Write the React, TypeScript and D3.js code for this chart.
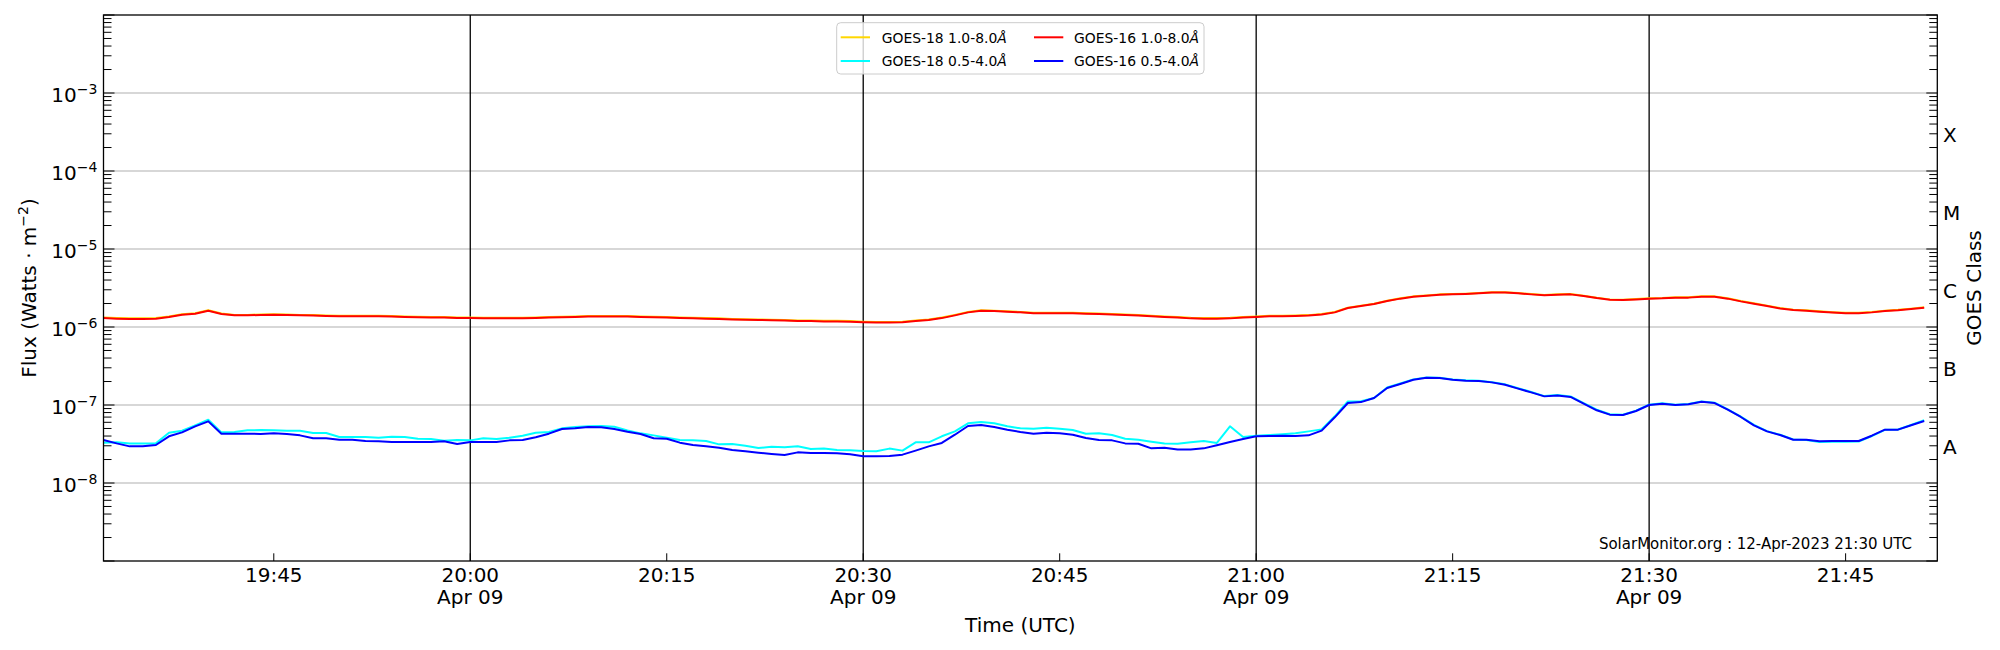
import React, { useEffect } from 'react';
import * as d3 from 'd3';

// one sample per minute, starting 2023-04-09 19:32 UTC
const startTime = new Date(Date.UTC(2023, 3, 9, 19, 32));
const endTime = new Date(Date.UTC(2023, 3, 9, 21, 52));

// GOES-18 1.0-8.0 A (units of 1e-6 W/m^2)
const goes18LongE6 = [
  1.32, 1.30, 1.29, 1.29, 1.30, 1.36, 1.46, 1.50, 1.64, 1.49, 1.43, 1.43, 1.45, 1.46, 1.45, 1.43, 1.42, 1.40,
  1.39, 1.39, 1.39, 1.39, 1.38, 1.36, 1.35, 1.34, 1.34, 1.32, 1.32, 1.31, 1.31, 1.31, 1.31, 1.32, 1.34, 1.35,
  1.36, 1.38, 1.38, 1.38, 1.38, 1.36, 1.35, 1.34, 1.32, 1.31, 1.30, 1.29, 1.27, 1.26, 1.25, 1.24, 1.23, 1.21,
  1.21, 1.20, 1.20, 1.19, 1.17, 1.16, 1.16, 1.17, 1.21, 1.25, 1.32, 1.43, 1.56, 1.64, 1.62, 1.59, 1.56,
  1.52, 1.52, 1.52, 1.52, 1.50, 1.49, 1.47, 1.45, 1.42, 1.39, 1.36, 1.34, 1.31, 1.30, 1.30, 1.31, 1.34, 1.36,
  1.39, 1.39, 1.40, 1.42, 1.47, 1.56, 1.77, 1.88, 1.99, 2.17, 2.33, 2.47, 2.54, 2.62, 2.64, 2.67, 2.72,
  2.78, 2.78, 2.72, 2.64, 2.57, 2.62, 2.64, 2.52, 2.37, 2.26, 2.24, 2.28, 2.33, 2.35, 2.40, 2.40, 2.47, 2.47,
  2.33, 2.15, 2.01, 1.88, 1.75, 1.67, 1.64, 1.59, 1.55, 1.52, 1.52, 1.56, 1.62, 1.66, 1.72, 1.79,
];

// GOES-18 0.5-4.0 A (units of 1e-8 W/m^2)
const goes18ShortE8 = [
  3.29, 3.32, 3.22, 3.22, 3.22, 4.42, 4.69, 5.49, 6.49, 4.46, 4.51, 4.73, 4.78, 4.73, 4.69, 4.69, 4.38, 4.38,
  3.89, 3.89, 3.89, 3.81, 3.92, 3.89, 3.70, 3.67, 3.49, 3.56, 3.52, 3.74, 3.67, 3.81, 4.04, 4.42, 4.51, 5.02,
  5.22, 5.33, 5.38, 5.27, 4.73, 4.33, 4.08, 3.81, 3.56, 3.52, 3.45, 3.13, 3.16, 3.01, 2.81, 2.92, 2.87, 2.95,
  2.73, 2.76, 2.65, 2.62, 2.57, 2.55, 2.76, 2.60, 3.32, 3.32, 3.97, 4.59, 5.82, 6.06, 5.82, 5.33, 5.02,
  4.97, 5.12, 4.97, 4.78, 4.29, 4.33, 4.12, 3.70, 3.59, 3.39, 3.22, 3.19, 3.32, 3.45, 3.26, 5.33, 3.89, 4.04,
  4.12, 4.21, 4.33, 4.59, 4.87, 7.16, 11.1, 11.2, 12.3, 16.8, 18.9, 21.3, 22.6, 22.4, 21.3, 20.7, 20.4,
  19.6, 18.4, 16.4, 14.7, 13.0, 13.4, 12.9, 10.6, 8.70, 7.60, 7.50, 8.45, 10.1, 10.5, 10.1, 10.3, 11.1, 10.7,
  8.80, 7.10, 5.55, 4.62, 4.15, 3.62, 3.55, 3.35, 3.38, 3.38, 3.40, 4.00, 4.80, 4.85, 5.55, 6.40,
];

// GOES-16 1.0-8.0 A (units of 1e-6 W/m^2)
const goes16LongE6 = [
  1.30, 1.28, 1.27, 1.27, 1.28, 1.34, 1.44, 1.48, 1.62, 1.47, 1.41, 1.41, 1.43, 1.44, 1.43, 1.41, 1.40, 1.38,
  1.37, 1.37, 1.37, 1.37, 1.36, 1.34, 1.33, 1.32, 1.32, 1.30, 1.30, 1.29, 1.29, 1.29, 1.29, 1.30, 1.32, 1.33,
  1.34, 1.36, 1.36, 1.36, 1.36, 1.34, 1.33, 1.32, 1.30, 1.29, 1.28, 1.27, 1.25, 1.24, 1.23, 1.22, 1.21, 1.19,
  1.19, 1.18, 1.18, 1.17, 1.15, 1.14, 1.14, 1.15, 1.19, 1.23, 1.30, 1.41, 1.54, 1.62, 1.60, 1.57, 1.54,
  1.50, 1.50, 1.50, 1.50, 1.48, 1.47, 1.45, 1.43, 1.40, 1.37, 1.34, 1.32, 1.29, 1.28, 1.28, 1.29, 1.32, 1.34,
  1.37, 1.37, 1.38, 1.40, 1.45, 1.54, 1.75, 1.86, 1.97, 2.15, 2.31, 2.45, 2.52, 2.60, 2.62, 2.65, 2.70,
  2.76, 2.76, 2.70, 2.62, 2.55, 2.60, 2.62, 2.50, 2.35, 2.24, 2.22, 2.26, 2.31, 2.33, 2.38, 2.38, 2.45, 2.45,
  2.31, 2.13, 1.99, 1.86, 1.73, 1.65, 1.62, 1.57, 1.53, 1.50, 1.50, 1.54, 1.60, 1.64, 1.70, 1.77,
];

// GOES-16 0.5-4.0 A (units of 1e-8 W/m^2)
const goes16ShortE8 = [
  3.56, 3.22, 2.95, 2.95, 3.07, 3.97, 4.46, 5.33, 6.17, 4.29, 4.29, 4.29, 4.25, 4.33, 4.25, 4.08, 3.74, 3.74,
  3.59, 3.59, 3.45, 3.42, 3.35, 3.35, 3.35, 3.35, 3.42, 3.16, 3.35, 3.35, 3.35, 3.52, 3.56, 3.85, 4.29, 4.92,
  5.02, 5.22, 5.17, 4.92, 4.55, 4.25, 3.74, 3.70, 3.29, 3.07, 2.95, 2.84, 2.65, 2.55, 2.45, 2.36, 2.29, 2.47,
  2.42, 2.42, 2.40, 2.33, 2.20, 2.20, 2.22, 2.31, 2.60, 2.95, 3.26, 4.16, 5.38, 5.54, 5.22, 4.83, 4.51,
  4.29, 4.42, 4.33, 4.16, 3.77, 3.56, 3.52, 3.22, 3.19, 2.78, 2.84, 2.68, 2.68, 2.78, 3.04, 3.35, 3.67, 3.97,
  4.00, 4.04, 4.00, 4.08, 4.69, 6.95, 10.6, 10.9, 12.3, 16.5, 18.6, 21.1, 22.4, 22.2, 21.1, 20.5, 20.3,
  19.5, 18.2, 16.2, 14.5, 12.9, 13.2, 12.7, 10.4, 8.55, 7.52, 7.44, 8.38, 10.0, 10.4, 10.0, 10.2, 11.0, 10.6,
  8.71, 7.02, 5.49, 4.59, 4.12, 3.59, 3.59, 3.42, 3.45, 3.45, 3.45, 4.04, 4.83, 4.83, 5.49, 6.23,
];

const yTickExponents = [-3, -4, -5, -6, -7, -8];
const goesClasses = ['A', 'B', 'C', 'M', 'X'];
const classExponents = [-7.5, -6.5, -5.5, -4.5, -3.5];

const series = [
  { label: 'GOES-18 1.0-8.0', values: goes18LongE6.map((v) => v * 1e-6), color: '#ffd700' },
  { label: 'GOES-18 0.5-4.0', values: goes18ShortE8.map((v) => v * 1e-8), color: '#00ffff' },
  { label: 'GOES-16 1.0-8.0', values: goes16LongE6.map((v) => v * 1e-6), color: '#ff0000' },
  { label: 'GOES-16 0.5-4.0', values: goes16ShortE8.map((v) => v * 1e-8), color: '#0000ff' },
];

const W = 2000;
const H = 650;
const left = 103.5;
const right = 1937.3;
const top = 15;
const bottom = 561;
const FONT = 'DejaVu Sans, sans-serif';

const App: React.FC = () => {
  useEffect(() => {
    document.body.style.margin = '0';
  }, []);

  const x = d3.scaleUtc().domain([startTime, endTime]).range([left, right]);
  const y = d3.scaleLog().domain([1e-9, 1e-2]).range([bottom, top]);

  const times = goes16LongE6.map((_, i) => d3.utcMinute.offset(startTime, i));

  const line = d3
    .line<number>()
    .x((_, i) => x(times[i]))
    .y((d) => y(d));

  const xTicks = d3.utcMinute.every(15)!.range(startTime, endTime);
  const majorTicks = xTicks.filter((t) => t.getUTCMinutes() % 30 === 0);
  const fmtTime = d3.utcFormat('%H:%M');
  const fmtDate = d3.utcFormat('%b %d');

  const minorY: number[] = [];
  for (let e = -9; e < -2; e++) {
    for (let k = 2; k <= 9; k++) minorY.push(k * Math.pow(10, e));
  }
  const majorY = d3.range(-9, -1).map((e) => Math.pow(10, e));

  return (
    <svg width={W} height={H} style={{ display: 'block', background: '#fff' }} fontFamily={FONT}>
      {/* horizontal grid */}
      {yTickExponents.map((e) => (
        <line key={e} x1={left} x2={right} y1={y(Math.pow(10, e))} y2={y(Math.pow(10, e))} stroke="#b0b0b0" strokeWidth={1.1} />
      ))}
      {/* vertical day/half-hour lines */}
      {majorTicks.map((t) => (
        <line key={+t} x1={x(t)} x2={x(t)} y1={top} y2={bottom} stroke="#000" strokeWidth={1.3} />
      ))}

      {/* data */}
      {series.map((s) => (
        <path key={s.label} d={line(s.values)!} fill="none" stroke={s.color} strokeWidth={2} strokeLinejoin="round" />
      ))}

      {/* legend */}
      <g>
        <rect x={836.7} y={22.7} width={367.3} height={51.3} rx={4} fill="#fff" fillOpacity={0.8} stroke="#cccccc" strokeWidth={1} />
        {series.map((s, i) => {
          const col = i < 2 ? 0 : 1;
          const row = i % 2;
          const hx = col === 0 ? 840.7 : 1034;
          const tx = col === 0 ? 881.7 : 1074;
          const cy = row === 0 ? 37.3 : 61;
          return (
            <g key={s.label}>
              <line x1={hx} x2={hx + 29.3} y1={cy} y2={cy} stroke={s.color} strokeWidth={2} />
              <text x={tx} y={cy + 5.3} fontSize={13.9} fill="#000">
                {s.label}
                <tspan fontStyle="italic">Å</tspan>
              </text>
            </g>
          );
        })}
      </g>

      {/* frame */}
      <rect x={left} y={top} width={right - left} height={bottom - top} fill="none" stroke="#000" strokeWidth={1.3} />

      {/* y ticks, both sides, pointing in */}
      {minorY.map((v, i) => (
        <g key={'mi' + i}>
          <line x1={left} x2={left + 8} y1={y(v)} y2={y(v)} stroke="#000" strokeWidth={1} />
          <line x1={right} x2={right - 8} y1={y(v)} y2={y(v)} stroke="#000" strokeWidth={1} />
        </g>
      ))}
      {majorY.map((v, i) => (
        <g key={'ma' + i}>
          <line x1={left} x2={left + 11} y1={y(v)} y2={y(v)} stroke="#000" strokeWidth={1} />
          <line x1={right} x2={right - 11} y1={y(v)} y2={y(v)} stroke="#000" strokeWidth={1} />
        </g>
      ))}

      {/* y tick labels */}
      {yTickExponents.map((e) => (
        <text key={e} x={97.3} y={y(Math.pow(10, e)) + 9} textAnchor="end" fontSize={20} fill="#000">
          10
          <tspan dy={-8.5} fontSize={14}>
            {'\u2212' + Math.abs(e)}
          </tspan>
        </text>
      ))}

      {/* GOES class labels */}
      {goesClasses.map((c, i) => (
        <text key={c} x={1943} y={y(Math.pow(10, classExponents[i])) + 9.5} fontSize={20} fill="#000">
          {c}
        </text>
      ))}

      {/* x ticks */}
      {xTicks.map((t) => (
        <line key={'xt' + +t} x1={x(t)} x2={x(t)} y1={bottom} y2={bottom - 7.7} stroke="#000" strokeWidth={1} />
      ))}
      {xTicks.map((t) => {
        const major = t.getUTCMinutes() % 30 === 0;
        return (
          <text key={'xl' + +t} x={x(t)} y={582} textAnchor="middle" fontSize={20} fill="#000">
            {fmtTime(t)}
            {major && (
              <tspan x={x(t)} dy={22.3}>
                {fmtDate(t)}
              </tspan>
            )}
          </text>
        );
      })}

      {/* axis labels */}
      <text x={(left + right) / 2} y={631.7} textAnchor="middle" fontSize={20} fill="#000">
        Time (UTC)
      </text>
      <text transform={`translate(36,${(top + bottom) / 2}) rotate(-90)`} textAnchor="middle" fontSize={20} fill="#000">
        Flux (Watts · m
        <tspan dy={-8} fontSize={14}>
          {'\u22122'}
        </tspan>
        <tspan dy={8}>)</tspan>
      </text>
      <text transform={`translate(1980.5,${(top + bottom) / 2}) rotate(-90)`} textAnchor="middle" fontSize={20} fill="#000">
        GOES Class
      </text>

      {/* watermark */}
      <text x={1912} y={549.3} textAnchor="end" fontSize={15} fill="#000">
        SolarMonitor.org : 12-Apr-2023 21:30 UTC
      </text>
    </svg>
  );
};

export default App;
